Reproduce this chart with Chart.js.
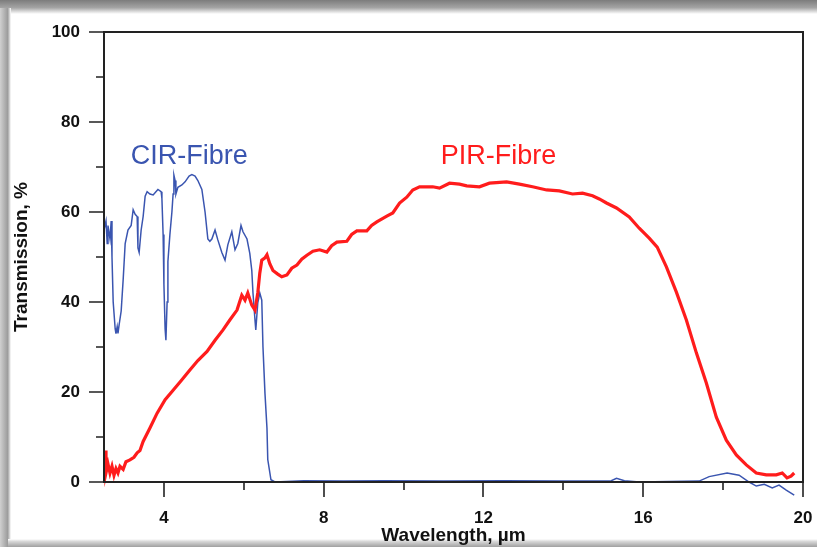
<!DOCTYPE html>
<html>
<head>
<meta charset="utf-8">
<script src="https://cdn.jsdelivr.net/npm/chart.js@4/dist/chart.umd.min.js"></script>
<style>
  html, body { margin: 0; padding: 0; background: #ffffff; }
  #wrap { position: relative; width: 817px; height: 547px; }
  canvas { display: block; }
</style>
</head>
<body>
<div id="wrap"><canvas id="c" width="817" height="547"></canvas></div>
<script>
// ---- Data ----
const cirWavelength = [2.5, 2.55, 2.58, 2.6, 2.65, 2.68, 2.7, 2.73, 2.78, 2.8, 2.83, 2.85, 2.88, 2.93, 2.98,
  3.03, 3.1, 3.18, 3.23, 3.28, 3.33, 3.35, 3.38, 3.43, 3.48, 3.53, 3.58, 3.65, 3.73, 3.8, 3.85, 3.93, 3.95, 3.98,
  4.0, 4.03, 4.05, 4.08, 4.1, 4.15, 4.2, 4.23, 4.25, 4.28, 4.3, 4.35, 4.45, 4.53, 4.63, 4.7, 4.78, 4.85, 4.95,
  5.03, 5.1, 5.15, 5.2, 5.28, 5.35, 5.45, 5.53, 5.6, 5.7, 5.78, 5.85, 5.93, 5.98, 6.08, 6.15, 6.2, 6.23, 6.28,
  6.3, 6.35, 6.4, 6.45, 6.48, 6.53, 6.58, 6.6, 6.68, 6.78, 7.5, 8.5, 9.5, 11, 12.5, 14, 15.2, 15.33, 15.53, 15.9,
  17.4, 17.65, 18.1, 18.4, 18.65, 18.83, 19.03, 19.23, 19.4, 19.58, 19.78];
const cirTransmission = [56, 58, 53, 57, 54, 58, 50, 40, 34, 33, 34.5, 33, 35, 38, 45,
  53, 56, 57, 60.5, 59.5, 59, 52, 51, 56, 59, 63.5, 64.5, 64, 63.8, 64.5, 65, 64.5, 63, 55,
  44, 34, 31.5, 40, 49, 55, 60, 64, 68.2, 67, 64, 65.5, 66, 66.7, 68, 68.3, 68, 67, 65,
  60, 54, 53.5, 54, 56, 53.8, 51, 49.3, 52.7, 55.6, 51.6, 53, 57, 55.6, 54, 50.8, 47, 42, 36,
  33.8, 39.8, 42, 40.4, 30, 19.7, 12, 5, 0.5, 0, 0.3, 0.2, 0.3, 0.2, 0.3, 0.2, 0.3, 0.8, 0.3, 0,
  0.2, 1.2, 2, 1.5, 0, -0.9, -0.5, -1.3, -0.7, -1.8, -2.9];

const pirWavelength = [2.53, 2.55, 2.6, 2.65, 2.7, 2.75, 2.8, 2.85, 2.9, 2.98, 3.05, 3.15, 3.25, 3.33, 3.4, 3.48,
  3.65, 3.83, 4.03, 4.23, 4.43, 4.65, 4.85, 5.08, 5.28, 5.48, 5.65, 5.83, 5.95, 6.03, 6.1, 6.2, 6.28, 6.35,
  6.4, 6.45, 6.53, 6.58, 6.65, 6.73, 6.85, 6.95, 7.08, 7.2, 7.33, 7.45, 7.58, 7.73, 7.9, 8.08, 8.2, 8.33,
  8.58, 8.7, 8.83, 9.08, 9.2, 9.33, 9.58, 9.73, 9.9, 10.08, 10.23, 10.4, 10.73, 10.9, 11.15, 11.4, 11.58,
  11.9, 12.15, 12.58, 12.9, 13.23, 13.58, 13.9, 14.23, 14.48, 14.73, 14.9, 15.08, 15.33, 15.65, 15.9, 16.15,
  16.35, 16.58, 16.83, 17.08, 17.33, 17.58, 17.83, 18.08, 18.33, 18.58, 18.83, 19.08, 19.33, 19.48, 19.6,
  19.7, 19.78];
const pirTransmission = [7, 2, 4, 2, 3.5, 1.5, 3, 2, 3.5, 2.8, 4.5, 4.9, 5.5, 6.5, 7, 9,
  12, 15.3, 18.3, 20.4, 22.5, 24.9, 27, 29, 31.5, 33.8, 36, 38.2, 41.5, 40.4, 42, 39.3, 38.2, 42,
  46.4, 49.3, 49.8, 50.5, 48.5, 47, 46.2, 45.6, 46, 47.5, 48.2, 49.5, 50.4, 51.3, 51.6, 51.1, 52.5, 53.3,
  53.5, 55, 55.8, 55.8, 57, 57.8, 59.1, 59.8, 62, 63.3, 64.9, 65.6, 65.6, 65.3, 66.4, 66.2, 65.8,
  65.6, 66.4, 66.7, 66.2, 65.6, 64.9, 64.7, 64, 64.2, 63.6, 62.9, 62, 60.9, 58.9, 56.4, 54.2,
  52.2, 47.8, 42.2, 36, 28.7, 22, 14.4, 9.3, 6, 3.8, 2, 1.6, 1.6, 2, 0.9,
  1.3, 2];

const seriesNames = ['CIR-Fibre', 'PIR-Fibre'];
const xTitle = 'Wavelength, \u00b5m';
const yTitle = 'Transmission, %';

// ---- Build ----
const toPts = (xs, ys) => xs.map((x, i) => ({ x: x, y: ys[i] }));
const BLUE = '#3a55b0';
const RED = '#ff1c1c';

const framePlugin = {
  id: 'frame',
  beforeDraw(chart) {
    const ctx = chart.ctx, W = chart.width, H = chart.height;
    ctx.save();
    ctx.fillStyle = '#ffffff';
    ctx.fillRect(0, 0, W, H);
    let g = ctx.createLinearGradient(0, 0, 0, 14);
    g.addColorStop(0, '#7c7c7c'); g.addColorStop(0.55, '#a4a4a4'); g.addColorStop(1, '#ffffff');
    ctx.fillStyle = g; ctx.fillRect(0, 0, W, 14);
    g = ctx.createLinearGradient(0, 0, 11, 0);
    g.addColorStop(0, '#d0d0d0'); g.addColorStop(0.7, '#9c9c9c'); g.addColorStop(1, '#ffffff');
    ctx.fillStyle = g; ctx.fillRect(0, 8, 11, H - 8);
    g = ctx.createLinearGradient(0, 539, 0, H);
    g.addColorStop(0, '#ffffff'); g.addColorStop(0.3, '#d8d8d8'); g.addColorStop(1, '#a0a0a0');
    ctx.fillStyle = g; ctx.fillRect(8, 539, W - 8, H - 539);
    ctx.restore();
  }
};

const ticksPlugin = {
  id: 'manualTicks',
  afterDraw(chart) {
    const ctx = chart.ctx, ca = chart.chartArea;
    const xs = chart.scales.x, ys = chart.scales.y;
    ctx.save();
    ctx.strokeStyle = '#222';
    ctx.lineWidth = 2;
    ctx.strokeRect(ca.left, ca.top, ca.right - ca.left, ca.bottom - ca.top);
    ctx.lineWidth = 1.6;
    ctx.beginPath();
    xs.ticks.forEach(t => {
      const px = Math.round(xs.getPixelForValue(t.value));
      const len = (t.value % 4 === 0) ? 15 : 8;
      ctx.moveTo(px, ca.bottom); ctx.lineTo(px, ca.bottom + len);
    });
    ys.ticks.forEach(t => {
      const py = Math.round(ys.getPixelForValue(t.value));
      const len = (t.value % 20 === 0) ? 15 : 8;
      ctx.moveTo(ca.left - len, py); ctx.lineTo(ca.left, py);
    });
    ctx.stroke();
    // series labels anchored at data coordinates
    const labels = [
      { text: seriesNames[0], x: 3.17, y: 70.7, color: BLUE },
      { text: seriesNames[1], x: 10.93, y: 70.7, color: RED }
    ];
    ctx.font = '27px "Liberation Sans", Arial, sans-serif';
    ctx.textAlign = 'left';
    ctx.textBaseline = 'alphabetic';
    labels.forEach(l => {
      ctx.fillStyle = l.color;
      ctx.fillText(l.text, xs.getPixelForValue(l.x), ys.getPixelForValue(l.y));
    });
    ctx.restore();
  }
};

new Chart(document.getElementById('c'), {
  type: 'scatter',
  data: {
    datasets: [
      { label: seriesNames[1], data: toPts(pirWavelength, pirTransmission), showLine: true,
        borderColor: RED, borderWidth: 3.2, pointRadius: 0, tension: 0, clip: false },
      { label: seriesNames[0], data: toPts(cirWavelength, cirTransmission), showLine: true,
        borderColor: BLUE, borderWidth: 1.5, pointRadius: 0, tension: 0, clip: false }
    ]
  },
  options: {
    responsive: false,
    animation: false,
    devicePixelRatio: 1,
    layout: { padding: { left: 10, top: 32, right: 14, bottom: 0 } },
    plugins: { legend: { display: false }, tooltip: { enabled: false } },
    scales: {
      x: {
        type: 'linear', min: 2.5, max: 20,
        border: { display: false },
        grid: { display: false, drawTicks: false },
        ticks: {
          stepSize: 2, includeBounds: false, padding: 26, maxRotation: 0, autoSkip: false,
          color: '#111', font: { family: '"Liberation Sans", Arial, sans-serif', size: 17, weight: 'bold' },
          callback: v => (v % 4 === 0 ? String(v) : '')
        },
        title: { display: true, text: xTitle, color: '#111', padding: { top: 0, bottom: 0 },
          font: { family: '"Liberation Sans", Arial, sans-serif', size: 19, weight: 'bold' } },
        afterFit: s => { s.height = 547 - 482; s.paddingLeft = 0; s.paddingRight = 0; }
      },
      y: {
        type: 'linear', min: 0, max: 100,
        border: { display: false },
        grid: { display: false, drawTicks: false },
        ticks: {
          stepSize: 10, padding: 24, autoSkip: false,
          color: '#111', font: { family: '"Liberation Sans", Arial, sans-serif', size: 17, weight: 'bold' },
          callback: v => (v % 20 === 0 ? String(v) : '')
        },
        title: { display: true, text: yTitle, color: '#111', padding: { top: 0, bottom: 0 },
          font: { family: '"Liberation Sans", Arial, sans-serif', size: 19, weight: 'bold' } },
        afterFit: s => { s.width = 104 - 10; s.paddingTop = 0; s.paddingBottom = 0; }
      }
    }
  },
  plugins: [framePlugin, ticksPlugin]
});
</script>
</body>
</html>
